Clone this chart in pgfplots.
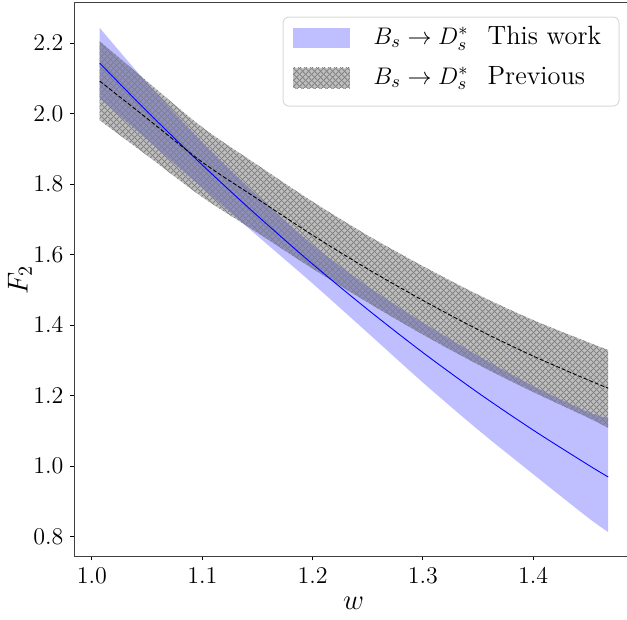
\documentclass[border=0pt]{standalone}
\usepackage{pgfplots}
\pgfplotsset{compat=1.18}
\usepackage{pgfplotstable}
\usepgfplotslibrary{fillbetween}
\usetikzlibrary{patterns.meta}

\tikzdeclarepattern{
  name=xhatch,
  type=uncolored,
  bounding box={(0pt,0pt) and (3pt,3pt)},
  tile size={(3pt,3pt)},
  code={
    \draw[line width=0.42pt] (-0.5pt,-0.5pt) -- (3.5pt,3.5pt);
    \draw[line width=0.42pt] (-0.5pt,3.5pt) -- (3.5pt,-0.5pt);
  }
}

\pgfplotstableread{
x c lo hi
1.007 2.143 2.043 2.243
1.05 2.006 1.926 2.086
1.10 1.854 1.789 1.919
1.15 1.710 1.653 1.767
1.20 1.573 1.518 1.628
1.25 1.444 1.378 1.510
1.30 1.322 1.237 1.407
1.35 1.208 1.103 1.313
1.40 1.102 0.977 1.227
1.45 1.003 0.853 1.153
1.468 0.969 0.813 1.136
}\bluetab

\pgfplotstableread{
x c lo hi
1.007 2.092 1.981 2.205
1.05 1.986 1.881 2.091
1.10 1.862 1.763 1.961
1.15 1.758 1.662 1.854
1.20 1.655 1.560 1.750
1.25 1.559 1.464 1.654
1.30 1.470 1.373 1.567
1.35 1.387 1.288 1.486
1.40 1.312 1.210 1.414
1.45 1.244 1.137 1.351
1.468 1.221 1.108 1.329
}\graytab

\begin{document}
\begin{tikzpicture}
\begin{axis}[
  at={(0,0)}, anchor=south west,
  scale only axis, width=279.5pt, height=277.25pt,
  xmin=0.9837, xmax=1.4905, ymin=0.742, ymax=2.315,
  xtick={1.0,1.1,1.2,1.3,1.4},
  ytick={0.8,1.0,1.2,1.4,1.6,1.8,2.0,2.2},
  tick label style={font=\fontsize{13}{15}\selectfont},
  x tick label style={/pgf/number format/fixed,/pgf/number format/fixed zerofill,/pgf/number format/precision=1},
  y tick label style={/pgf/number format/fixed,/pgf/number format/fixed zerofill,/pgf/number format/precision=1},
  tick pos=left, tick align=outside, major tick length=1.75pt,
  axis line style={black!75, line width=0.5pt},
  tick style={black, line width=0.5pt},
  xlabel={$w$}, ylabel={$F_2$},
  every axis x label/.style={at={(axis description cs:0.5,0)}, yshift=-23pt, anchor=center, font=\fontsize{14}{16}\selectfont},
  every axis y label/.style={at={(axis description cs:0,0.5)}, xshift=-27pt, anchor=center, rotate=90, font=\fontsize{14}{16}\selectfont},
]
\addplot[name path=bhi, draw=none, smooth] table[x=x,y=hi]{\bluetab};
\addplot[name path=blo, draw=none, smooth] table[x=x,y=lo]{\bluetab};
\addplot[fill=blue, fill opacity=0.25, draw=none] fill between[of=bhi and blo];
\addplot[name path=ghi, draw=none, smooth] table[x=x,y=hi]{\graytab};
\addplot[name path=glo, draw=none, smooth] table[x=x,y=lo]{\graytab};
\addplot[fill=black, fill opacity=0.25, draw=none] fill between[of=ghi and glo];
\addplot[pattern=xhatch, pattern color=black!50, draw=none] fill between[of=ghi and glo];
\addplot[blue, line width=0.45pt, smooth] table[x=x,y=c]{\bluetab};
\addplot[black, line width=0.45pt, dash pattern=on 2pt off 1pt, smooth] table[x=x,y=c]{\graytab};

% legend box
\draw[black!15, fill=white, rounded corners=3pt, line width=0.5pt]
  (axis description cs:0.3739,0.8133) rectangle (axis description cs:0.9750,0.9738);
\fill[blue, fill opacity=0.25]
  (axis description cs:0.3918,0.9179) rectangle (axis description cs:0.4937,0.9540);
\fill[black, fill opacity=0.25]
  (axis description cs:0.3918,0.8458) rectangle (axis description cs:0.4937,0.8819);
\fill[pattern=xhatch, pattern color=black!50]
  (axis description cs:0.3918,0.8458) rectangle (axis description cs:0.4937,0.8819);
\node[anchor=west, inner sep=0pt, font=\fontsize{13.2}{16}\selectfont]
  at (axis description cs:0.5349,0.9360) {$B_s\to D_s^*$\hspace{9.5pt}This work};
\node[anchor=west, inner sep=0pt, font=\fontsize{13.2}{16}\selectfont]
  at (axis description cs:0.5349,0.8638) {$B_s\to D_s^*$\hspace{9.5pt}Previous};
\end{axis}
\pgfresetboundingbox
\path[use as bounding box] (-37pt,-31.5pt) rectangle (276.5pt,278.5pt);
\end{tikzpicture}
\end{document}
